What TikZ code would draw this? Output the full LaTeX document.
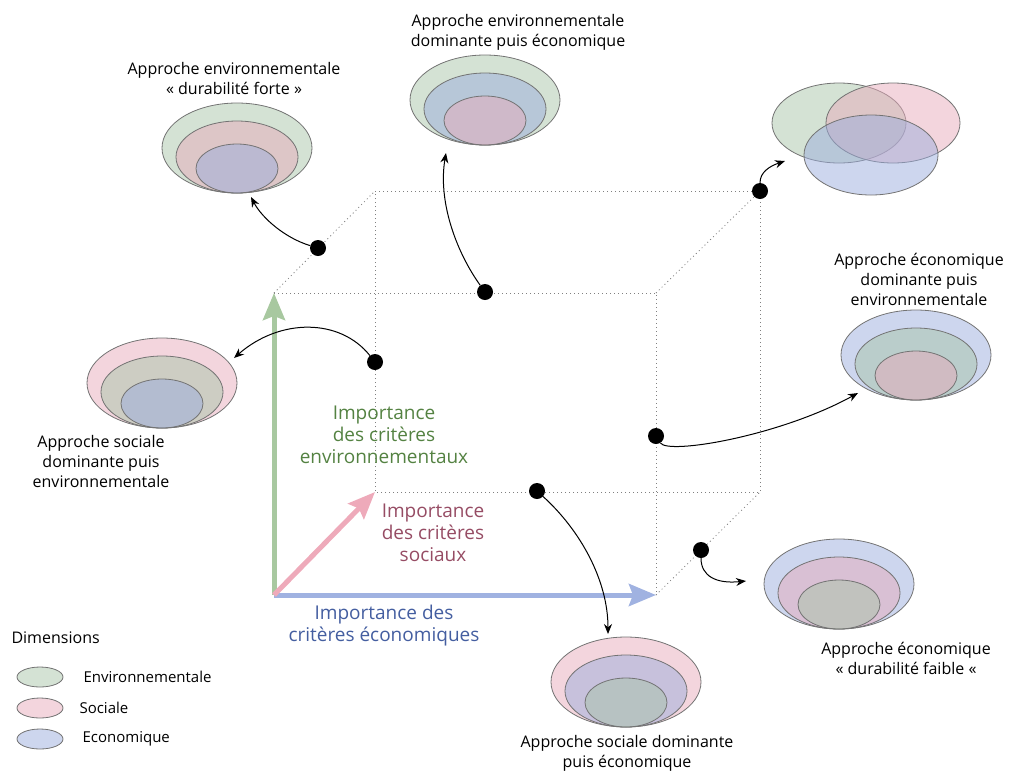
\documentclass[tikz,border=0pt]{standalone}
\usepackage{fontspec}
\setmainfont{Open Sans}
\usetikzlibrary{shapes.geometric,arrows.meta,positioning}

\definecolor{envfill}{RGB}{169,197,169}
\definecolor{socfill}{RGB}{231,171,187}
\definecolor{ecofill}{RGB}{155,173,221}
\definecolor{envaxis}{RGB}{168,200,160}
\definecolor{socaxis}{RGB}{238,170,186}
\definecolor{ecoaxis}{RGB}{160,178,225}
\definecolor{envtext}{RGB}{84,130,66}
\definecolor{soctext}{RGB}{150,76,100}
\definecolor{ecotext}{RGB}{68,94,160}

\tikzset{
  disc/.style={ellipse, draw=black!55, line width=0.8pt, fill opacity=0.5, inner sep=0pt},
  rim/.style={disc, minimum width=150pt, minimum height=90pt},
  midlayer/.style={disc, minimum width=122pt, minimum height=72pt, anchor=south},
  core/.style={disc, minimum width=82pt, minimum height=49pt, anchor=south},
  venn/.style={disc, minimum width=134pt, minimum height=80pt},
  env/.style={fill=envfill},
  soc/.style={fill=socfill},
  eco/.style={fill=ecofill},
  bullet/.style={circle, fill=black, inner sep=0pt, minimum size=16pt},
  link/.style={-{Stealth[length=10pt,width=8pt]}, line width=1pt},
  cubeedge/.style={black!50, line width=0.8pt, dash pattern=on 1pt off 3pt},
  axisarrow/.style={line width=5pt, -{Stealth[length=27pt,width=22pt,inset=4pt]}},
  approach/.style={align=center, font=\fontsize{16}{20}\selectfont},
  axislabel/.style={align=center, font=\fontsize{19}{22}\selectfont},
  legendtext/.style={anchor=west, font=\fontsize{15}{18}\selectfont}
}

\begin{document}
\begin{tikzpicture}[x=1pt, y=-1pt]
  \useasboundingbox (0,0) rectangle (1009,772);

  % Cube corners
  \coordinate (fbl) at (274,595);
  \coordinate (fbr) at (656,595);
  \coordinate (ftl) at (274,293);
  \coordinate (ftr) at (656,293);
  \coordinate (bbl) at (375,492);
  \coordinate (bbr) at (760,492);
  \coordinate (btl) at (375,191);
  \coordinate (btr) at (760,191);

  % Cube edges
  \draw[cubeedge] (ftl) -- (ftr) -- (fbr);
  \draw[cubeedge] (btl) -- (btr) -- (bbr) -- (bbl) -- cycle;
  \draw[cubeedge] (ftl) -- (btl);
  \draw[cubeedge] (ftr) -- (btr);
  \draw[cubeedge] (fbr) -- (bbr);

  % Axes
  \draw[axisarrow, envaxis] (fbl) -- (ftl);
  \draw[axisarrow, ecoaxis] (fbl) -- (fbr);
  \draw[axisarrow, socaxis] (fbl) -- (bbl);
  \node[axislabel, text=envtext] (envL) at (384,435) {Importance\\des critères\\environnementaux};
  \node[axislabel, text=soctext] (socL) at (433,533) {Importance\\des critères\\sociaux};
  \node[axislabel, text=ecotext] (ecoL) at (384,626) {Importance des\\critères économiques};

  % Approaches
  \node[rim, env] (forte) at (237,148) {};
  \node[midlayer, soc] (forte2) at (forte.south) {};
  \node[core, eco] (forte3) at (forte.south) {};
  \node[approach] (forteL) at (234,78) {Approche environnementale\\« durabilité forte »};

  \node[rim, env] (enveco) at (485,100) {};
  \node[midlayer, eco] (enveco2) at (enveco.south) {};
  \node[core, soc] (enveco3) at (enveco.south) {};
  \node[approach] (envecoL) at (518,32) {Approche environnementale\\dominante puis économique};

  \node[venn, env] (vennE) at (839,123) {};
  \node[venn, soc] (vennS) at (893,123) {};
  \node[venn, eco] (vennC) at (871,155) {};

  \node[rim, soc] (socenv) at (162,383) {};
  \node[midlayer, env] (socenv2) at (socenv.south) {};
  \node[core, eco] (socenv3) at (socenv.south) {};
  \node[approach] (socenvL) at (101,461) {Approche sociale\\dominante puis\\environnementale};

  \node[rim, eco] (ecoenv) at (916,355) {};
  \node[midlayer, env] (ecoenv2) at (ecoenv.south) {};
  \node[core, soc] (ecoenv3) at (ecoenv.south) {};
  \node[approach] (ecoenvL) at (919,279) {Approche économique\\dominante puis\\environnementale};

  \node[rim, eco] (faible) at (839,584) {};
  \node[midlayer, soc] (faible2) at (faible.south) {};
  \node[core, env] (faible3) at (faible.south) {};
  \node[approach] (faibleL) at (906,658) {Approche économique\\« durabilité faible «};

  \node[rim, soc] (soceco) at (626,682) {};
  \node[midlayer, eco] (soceco2) at (soceco.south) {};
  \node[core, env] (soceco3) at (soceco.south) {};
  \node[approach] (socecoL) at (627,753) {Approche sociale dominante\\puis économique};

  % Points on the cube
  \node[bullet] (d1) at (318,248) {};
  \node[bullet] (d2) at (485,292) {};
  \node[bullet] (d3) at (760,191) {};
  \node[bullet] (d4) at (375,362) {};
  \node[bullet] (d5) at (656,436) {};
  \node[bullet] (d6) at (537,491) {};
  \node[bullet] (d7) at (701,550) {};

  % Arrow ends
  \coordinate (t1) at (251,197);
  \coordinate (t2) at (446,153);
  \coordinate (t3) at (785,161);
  \coordinate (t4) at (234,358);
  \coordinate (t5) at (858,393);
  \coordinate (t6) at (608,634);
  \coordinate (t7) at (746,581);

  \draw[link] (d1) .. controls (285,238) and (262,218) .. (t1);
  \draw[link] (d2) .. controls (455,250) and (438,200) .. (t2);
  \draw[link] (d3) .. controls (760,172) and (770,166) .. (t3);
  \draw[link] (d4) .. controls (340,318) and (280,318) .. (t4);
  \draw[link] (d5) .. controls (668,455) and (780,436) .. (t5);
  \draw[link] (d6) .. controls (580,530) and (608,580) .. (t6);
  \draw[link] (d7) .. controls (701,576) and (716,584) .. (t7);

  % Legend
  \node[anchor=west, font=\fontsize{16}{19}\selectfont] (dims) at (8,638) {Dimensions};
  \node[disc, env, minimum width=46pt, minimum height=20pt] (kenv) at (40,677) {};
  \node[disc, soc, minimum width=46pt, minimum height=20pt] (ksoc) at (40,708) {};
  \node[disc, eco, minimum width=46pt, minimum height=20pt] (keco) at (40,739) {};
  \node[legendtext] (kenvL) at (80,677) {Environnementale};
  \node[legendtext] (ksocL) at (76,708) {Sociale};
  \node[legendtext] (kecoL) at (79,739) {Economique};
\end{tikzpicture}
\end{document}
